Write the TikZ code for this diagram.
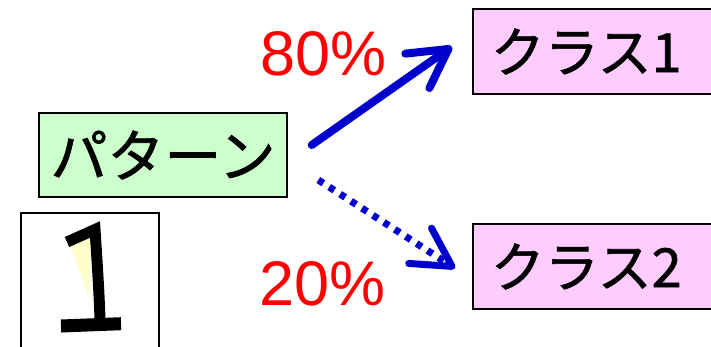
\documentclass[tikz,border=0pt]{standalone}
\usepackage{fontspec}
\setmainfont{Liberation Sans}
\newfontfamily\jp[FakeBold=1.2]{Noto Sans CJK JP}
\usetikzlibrary{arrows.meta}
\definecolor{arrowblue}{RGB}{0,0,204}
\definecolor{boxgreen}{RGB}{204,255,204}
\definecolor{boxpink}{RGB}{255,204,255}
\definecolor{hiyellow}{RGB}{255,255,204}
\begin{document}
\begin{tikzpicture}[x=1pt,y=-1pt,
  labelbox/.style={draw=black, line width=1.5pt, inner sep=0pt},
  pct/.style={text=red, font=\fontsize{63}{63}\selectfont, inner sep=0pt, anchor=base west},
  bluearrow/.style={draw=arrowblue, line width=8pt, line cap=round,
    -{Straight Barb[length=38pt,width=42pt,line cap=round,line join=round]}},
  dotarrow/.style={draw=arrowblue, line width=7pt, dash pattern=on 6pt off 7pt,
    -{Straight Barb[length=38pt,width=42pt,line cap=round,line join=round]}}
]
\useasboundingbox (0,0) rectangle (711,346);
\clip (0,0) rectangle (711,346);

% pattern box
\node (pat) [labelbox, fill=boxgreen, minimum width=248pt, minimum height=84pt,
  font=\jp\fontsize{57}{57}\selectfont] at (163,155) {パターン};

% class boxes
\node (c1) [labelbox, fill=boxpink, anchor=west, text width=240pt, align=left,
  inner xsep=18pt, minimum height=85pt, font=\jp\fontsize{54}{54}\selectfont]
  at (472,51.5) {クラス1};
\node (c2) [labelbox, fill=boxpink, anchor=west, text width=240pt, align=left,
  inner xsep=18pt, minimum height=85pt, font=\jp\fontsize{54}{54}\selectfont]
  at (472,266.5) {クラス2};

% percentages
\node (p80) [pct] at (260,75) {80\%};
\node (p20) [pct] at (259,305) {20\%};

% digit box
\node (digit) [draw=black, line width=1.5pt, minimum width=138pt, minimum height=150pt,
  anchor=north west, inner sep=0pt] at (20,212) {};
\fill[hiyellow] (71,246.7) -- (90.7,237.3) -- (89.3,298.3) -- cycle;
\draw[black, line width=11pt, line join=miter]
  (67,242) -- (95,229.5) .. controls (97,260) and (99,290) .. (100,319);
\draw[black, line width=13pt] (61,326) -- (121,323.7);

% connectors
\coordinate (a1s) at (311.7,145);
\coordinate (a1e) at (451.7,46.7);
\coordinate (a2s) at (318.3,180);
\coordinate (a2e) at (455,268.3);
\draw[bluearrow] (a1s) -- (a1e);
\draw[dotarrow] (a2s) -- (a2e);
\end{tikzpicture}
\end{document}
